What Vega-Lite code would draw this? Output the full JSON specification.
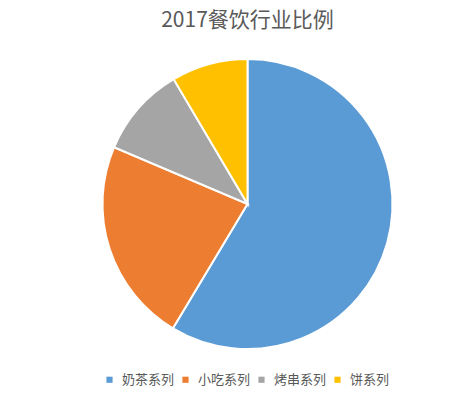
{
  "$schema": "https://vega.github.io/schema/vega-lite/v6.json",
  "autosize": "none",
  "width": 451,
  "height": 290,
  "padding": {"top": 59, "bottom": 54, "left": 22, "right": 0},
  "background": "white",
  "title": {
    "text": "2017餐饮行业比例",
    "font": "Noto Sans CJK SC",
    "fontSize": 21,
    "fontWeight": "normal",
    "color": "#595959",
    "anchor": "middle",
    "offset": 24
  },
  "data": {
    "values": [
      {"类别": "奶茶系列", "比例": 58.6},
      {"类别": "小吃系列", "比例": 22.8},
      {"类别": "烤串系列", "比例": 10.1},
      {"类别": "饼系列", "比例": 8.5}
    ]
  },
  "mark": {"type": "arc", "radius": 145, "stroke": "white", "strokeWidth": 2},
  "encoding": {
    "theta": {"field": "比例", "type": "quantitative", "stack": true},
    "order": {"field": "比例", "sort": "descending"},
    "color": {
      "field": "类别",
      "type": "nominal",
      "sort": null,
      "scale": {
        "domain": ["奶茶系列", "小吃系列", "烤串系列", "饼系列"],
        "range": ["#5B9BD5", "#ED7D31", "#A5A5A5", "#FFC000"]
      },
      "legend": {
        "orient": "none",
        "legendX": 81,
        "legendY": 314,
        "direction": "horizontal",
        "title": null,
        "symbolType": "square",
        "symbolSize": 38,
        "symbolStrokeWidth": 0,
        "labelFont": "Noto Sans CJK SC",
        "labelFontSize": 13,
        "labelColor": "#595959",
        "labelOffset": 6,
        "columnPadding": 4
      }
    }
  },
  "config": {"view": {"stroke": null}}
}
